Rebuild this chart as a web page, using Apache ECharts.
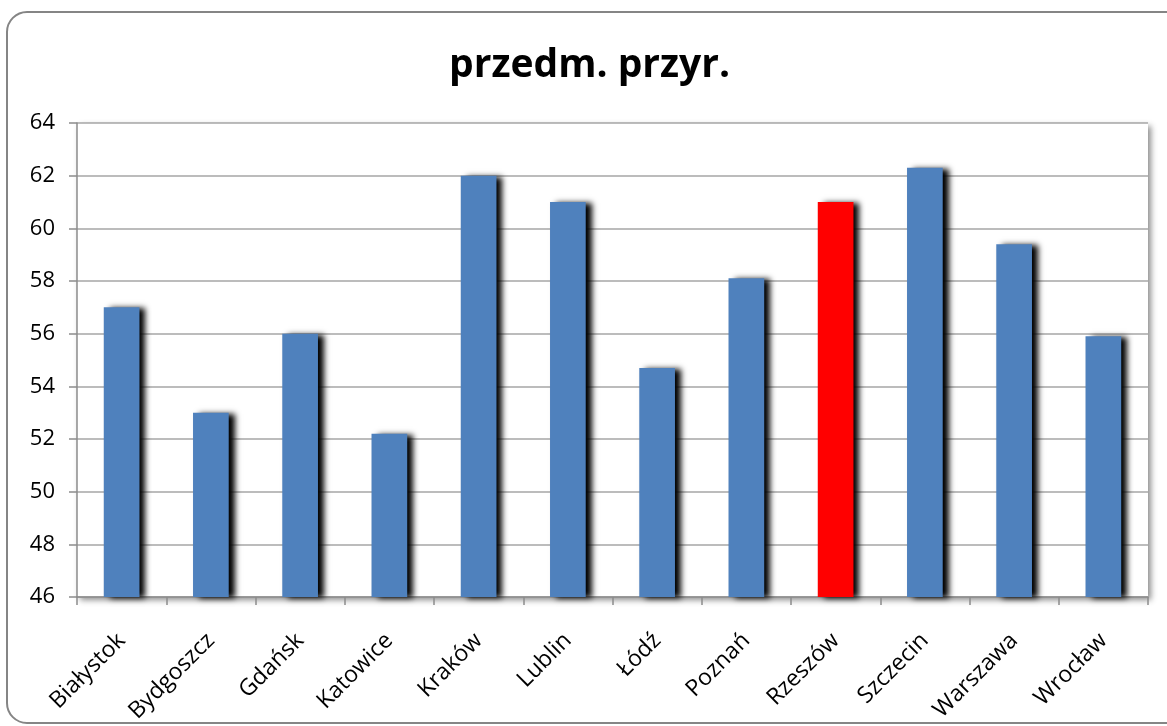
<!DOCTYPE html>
<html>
<head>
<meta charset="utf-8">
<script src="https://cdn.jsdelivr.net/npm/echarts@6/dist/echarts.min.js"></script>
<style>
html,body{margin:0;padding:0;background:#fff;overflow:hidden;}
#chart{width:1167px;height:726px;}
</style>
</head>
<body>
<div id="chart"></div>
<script>
const titleText = 'przedm. przyr.';
const categories = ['Białystok','Bydgoszcz','Gdańsk','Katowice','Kraków','Lublin','Łódź','Poznań','Rzeszów','Szczecin','Warszawa','Wrocław'];
const values = [57, 53, 56, 52.2, 62, 61, 54.7, 58.1, 61, 62.3, 59.4, 55.9];
const highlighted = ['Rzeszów'];
const yMin = 46, yMax = 64, yStep = 2;

const chart = echarts.init(document.getElementById('chart'));
const seriesData = values.map((v, i) => ({
  value: v,
  itemStyle: { color: highlighted.includes(categories[i]) ? '#ff0000' : '#4f81bd' }
}));

chart.setOption({
  animation: false,
  title: {
    text: titleText,
    left: 444,
    top: 41,
    textStyle: { fontFamily: 'Open Sans', fontWeight: 'bold', fontSize: 39, color: '#000' }
  },
  graphic: [{
    type: 'rect',
    z: -10,
    shape: { x: 7, y: 12, width: 1185, height: 711, r: 20 },
    style: { fill: '#fff', stroke: '#858585', lineWidth: 2 }
  }],
  grid: {
    left: 77, right: 19, top: 123, bottom: 129,
    show: true, backgroundColor: '#fff', borderWidth: 0,
    shadowColor: 'rgba(0,0,0,0.45)', shadowBlur: 6, shadowOffsetX: 3, shadowOffsetY: 3
  },
  xAxis: {
    type: 'category',
    data: categories,
    axisLine: { show: true, lineStyle: { color: '#8c8c8c', width: 1.5 } },
    axisTick: { show: true, alignWithLabel: false, length: 8, lineStyle: { color: '#8c8c8c', width: 1.5 } },
    axisLabel: { rotate: 45, interval: 0, margin: 40, fontFamily: 'Open Sans', fontSize: 23, color: '#000' }
  },
  yAxis: {
    type: 'value',
    min: yMin, max: yMax, interval: yStep,
    axisLine: { show: true, lineStyle: { color: '#8c8c8c', width: 1.5 } },
    axisTick: { show: true, length: 8, lineStyle: { color: '#8c8c8c', width: 1.5 } },
    axisLabel: { margin: 22, fontFamily: 'Open Sans', fontSize: 22, color: '#000' },
    splitLine: { show: true, lineStyle: { color: '#a6a6a6', width: 1.5 } }
  },
  series: [{
    type: 'bar',
    data: seriesData,
    barWidth: '40%',
    itemStyle: {
      shadowColor: 'rgba(0,0,0,1)',
      shadowBlur: 6,
      shadowOffsetX: 6,
      shadowOffsetY: 1
    }
  }]
});
</script>
</body>
</html>
